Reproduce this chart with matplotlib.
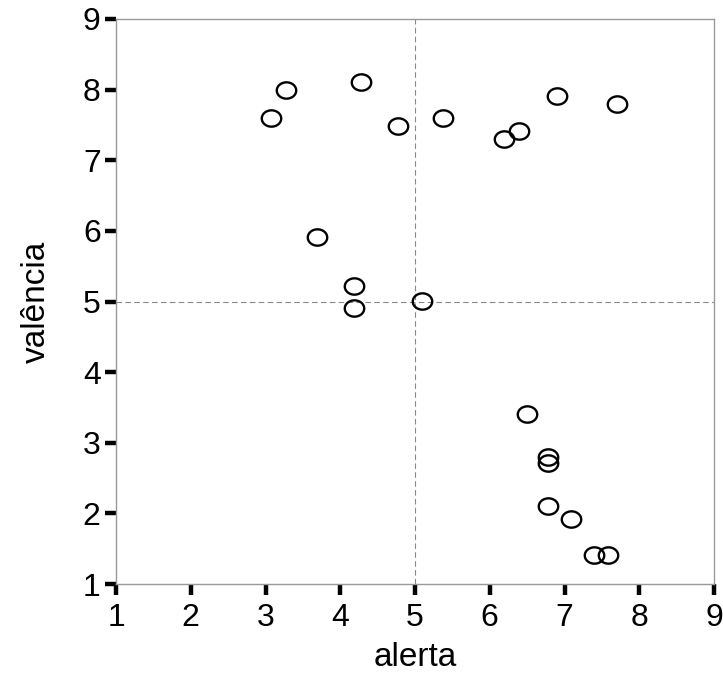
import numpy as np
import matplotlib
matplotlib.use('Agg')
import matplotlib.pyplot as plt
from matplotlib.path import Path

plt.rcParams['font.family'] = ['Liberation Sans', 'DejaVu Sans']

# dados
alerta = [3.08, 3.28, 4.28, 4.77, 5.38, 6.19, 6.39, 6.90, 7.70,
          3.69, 4.19, 4.19, 5.09,
          6.50, 6.78, 6.78, 6.78, 7.09, 7.39, 7.58]
valencia = [7.60, 7.99, 8.11, 7.48, 7.60, 7.30, 7.41, 7.91, 7.80,
            5.91, 5.22, 4.91, 5.01,
            3.41, 2.80, 2.71, 2.10, 1.92, 1.41, 1.41]
ticks = [1, 2, 3, 4, 5, 6, 7, 8, 9]

# marcador eliptico (mais largo que alto)
t = np.linspace(0, 2*np.pi, 60)
elipse = Path(np.column_stack([np.cos(t), 0.84*np.sin(t)]), closed=True)

fig = plt.figure(figsize=(7.23, 6.77), dpi=100)
ax = fig.add_axes([116/723, 1-584/677, (714-116)/723, (584-19)/677])

ax.axvline(5, color='#888888', lw=0.8, ls=(0, (5, 3)), zorder=1)
ax.axhline(5, color='#888888', lw=0.8, ls=(0, (5, 3)), zorder=1)

ax.plot(alerta, valencia, ls='none', marker=elipse, ms=14, mfc='none',
        mec='black', mew=1.7, zorder=3)

ax.set_xlim(1, 9)
ax.set_ylim(1, 9)
ax.set_xticks(ticks)
ax.set_yticks(ticks)
for s in ax.spines.values():
    s.set_color('#999999')
    s.set_linewidth(1.0)
ax.tick_params(direction='out', length=8, width=3.2, color='black',
               labelsize=23, pad=3)
ax.tick_params(axis='x', pad=6)

ax.set_xlabel('alerta', fontsize=24, labelpad=6)
ax.set_ylabel('valência', fontsize=24, labelpad=22)

plt.savefig('out.png', dpi=100)
